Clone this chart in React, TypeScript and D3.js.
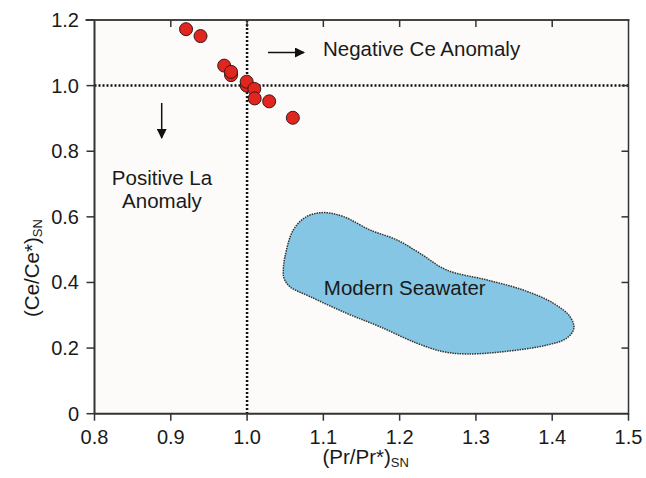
import React from "react";
import * as d3 from "d3";

const xTicks = [0.8, 0.9, 1.0, 1.1, 1.2, 1.3, 1.4, 1.5];
const xTickLabels = ["0.8", "0.9", "1.0", "1.1", "1.2", "1.3", "1.4", "1.5"];
const yTicks = [0, 0.2, 0.4, 0.6, 0.8, 1.0, 1.2];
const yTickLabels = ["0", "0.2", "0.4", "0.6", "0.8", "1.0", "1.2"];

const prValues = [0.92, 0.939, 0.97, 0.979, 0.979, 0.9995, 0.9995, 1.0095, 1.01, 1.029, 1.06];
const ceValues = [1.172, 1.151, 1.061, 1.032, 1.042, 1.0, 1.012, 0.99, 0.961, 0.952, 0.902];

const seawaterPr = [1.0475, 1.0497, 1.0606, 1.0781, 1.0999, 1.1261, 1.1611, 1.1961, 1.2266, 1.2616, 1.314, 1.362, 1.4013, 1.4232, 1.4284, 1.4189, 1.3927, 1.3358, 1.2878, 1.2571, 1.2223, 1.1742, 1.1305, 1.0824, 1.0562, 1.0484];
const seawaterCe = [0.438, 0.479, 0.56, 0.601, 0.613, 0.601, 0.56, 0.53, 0.489, 0.438, 0.408, 0.377, 0.337, 0.296, 0.26, 0.23, 0.209, 0.189, 0.182, 0.189, 0.215, 0.265, 0.306, 0.357, 0.387, 0.413];

const W = 646;
const H = 478;
const L = 94.5, R = 628.5, T = 20, B = 413.7;
const FONT = "Liberation Sans, Arial, sans-serif";

export default function App() {
  const x = d3.scaleLinear().domain([0.8, 1.5]).range([L, R]);
  const y = d3.scaleLinear().domain([0, 1.2]).range([B, T]);
  const sea: [number, number][] = seawaterPr.map((p, i) => [p, seawaterCe[i]]);
  const seaPath = d3
    .line<[number, number]>()
    .x((d) => x(d[0]))
    .y((d) => y(d[1]))
    .curve(d3.curveCatmullRomClosed.alpha(0.5))(sea) as string;
  const axisColor = "#333";

  return (
    <svg
      width={W}
      height={H}
      style={{ position: "absolute", left: 0, top: 0, background: "#fff" }}
      fontFamily={FONT}
    >
      <defs>
        <marker id="ah" viewBox="0 0 10 10" refX="9" refY="5" markerWidth="10" markerHeight="10" markerUnits="userSpaceOnUse" orient="auto">
          <path d="M0,0 L10,5 L0,10 z" fill="#111" />
        </marker>
      </defs>
      <rect x={L} y={T} width={R - L} height={B - T} fill="#fcfbf9" />
      <path d={seaPath} fill="#85c6e4" stroke="#333" strokeWidth={1.5} strokeDasharray="1.5,1" />
      <text x={x(1.1006)} y={y(0.362)} fontSize={20.5} fill="#1a1a1a">Modern Seawater</text>

      {/* reference lines */}
      <line x1={x(1.0)} x2={x(1.0)} y1={T} y2={B} stroke="#111" strokeWidth={2.5} strokeDasharray="2,2" />
      <line x1={L} x2={R} y1={y(1.0)} y2={y(1.0)} stroke="#111" strokeWidth={2.5} strokeDasharray="2,2" />

      {/* axes frame */}
      <line x1={L} x2={R} y1={B} y2={B} stroke={axisColor} strokeWidth={2} />
      <line x1={L} x2={L} y1={T} y2={B} stroke={axisColor} strokeWidth={2} />
      <line x1={L - 9} x2={R + 1} y1={T} y2={T} stroke="#444" strokeWidth={2} />
      <line x1={R} x2={R} y1={T} y2={B + 1} stroke={axisColor} strokeWidth={1.5} />

      {xTicks.map((t, i) => (
        <g key={"x" + i}>
          <line x1={x(t)} x2={x(t)} y1={B} y2={B + 7} stroke={axisColor} strokeWidth={1.5} />
          {i > 0 && i < xTicks.length - 1 && (
            <line x1={x(t)} x2={x(t)} y1={T} y2={T + 7} stroke={axisColor} strokeWidth={1.5} />
          )}
          <text x={x(t)} y={444} textAnchor="middle" fontSize={20} fill="#1a1a1a">
            {xTickLabels[i]}
          </text>
        </g>
      ))}
      {yTicks.map((t, i) => (
        <g key={"y" + i}>
          <line x1={L - 8} x2={L} y1={y(t)} y2={y(t)} stroke={axisColor} strokeWidth={1.5} />
          {i > 0 && i < yTicks.length - 1 && (
            <line x1={R - 7} x2={R} y1={y(t)} y2={y(t)} stroke={axisColor} strokeWidth={1.5} />
          )}
          <text x={79} y={y(t) + 7} textAnchor="end" fontSize={20} fill="#1a1a1a">
            {yTickLabels[i]}
          </text>
        </g>
      ))}

      {/* data points */}
      {prValues.map((p, i) => (
        <circle key={"p" + i} cx={x(p)} cy={y(ceValues[i])} r={6.5} fill="#e0261e" stroke="#3a1a18" strokeWidth={1} />
      ))}

      {/* annotations */}
      <line x1={268} x2={304} y1={52.5} y2={52.5} stroke="#111" strokeWidth={1.5} markerEnd="url(#ah)" />
      <text x={323} y={56} fontSize={20.5} fill="#1a1a1a">Negative Ce Anomaly</text>
      <line x1={161.7} x2={161.7} y1={103} y2={138} stroke="#111" strokeWidth={1.5} markerEnd="url(#ah)" />
      <text x={162} y={185} textAnchor="middle" fontSize={20.5} fill="#1a1a1a">Positive La</text>
      <text x={162} y={208} textAnchor="middle" fontSize={20.5} fill="#1a1a1a">Anomaly</text>

      {/* axis titles */}
      <text x={322.5} y={464} fontSize={20.5} fill="#1a1a1a">
        (Pr/Pr*)<tspan fontSize={13} dy={3}>SN</tspan>
      </text>
      <text transform="translate(39,317) rotate(-90)" fontSize={20.5} fill="#1a1a1a">
        (Ce/Ce*)<tspan fontSize={13} dy={3}>SN</tspan>
      </text>
    </svg>
  );
}
